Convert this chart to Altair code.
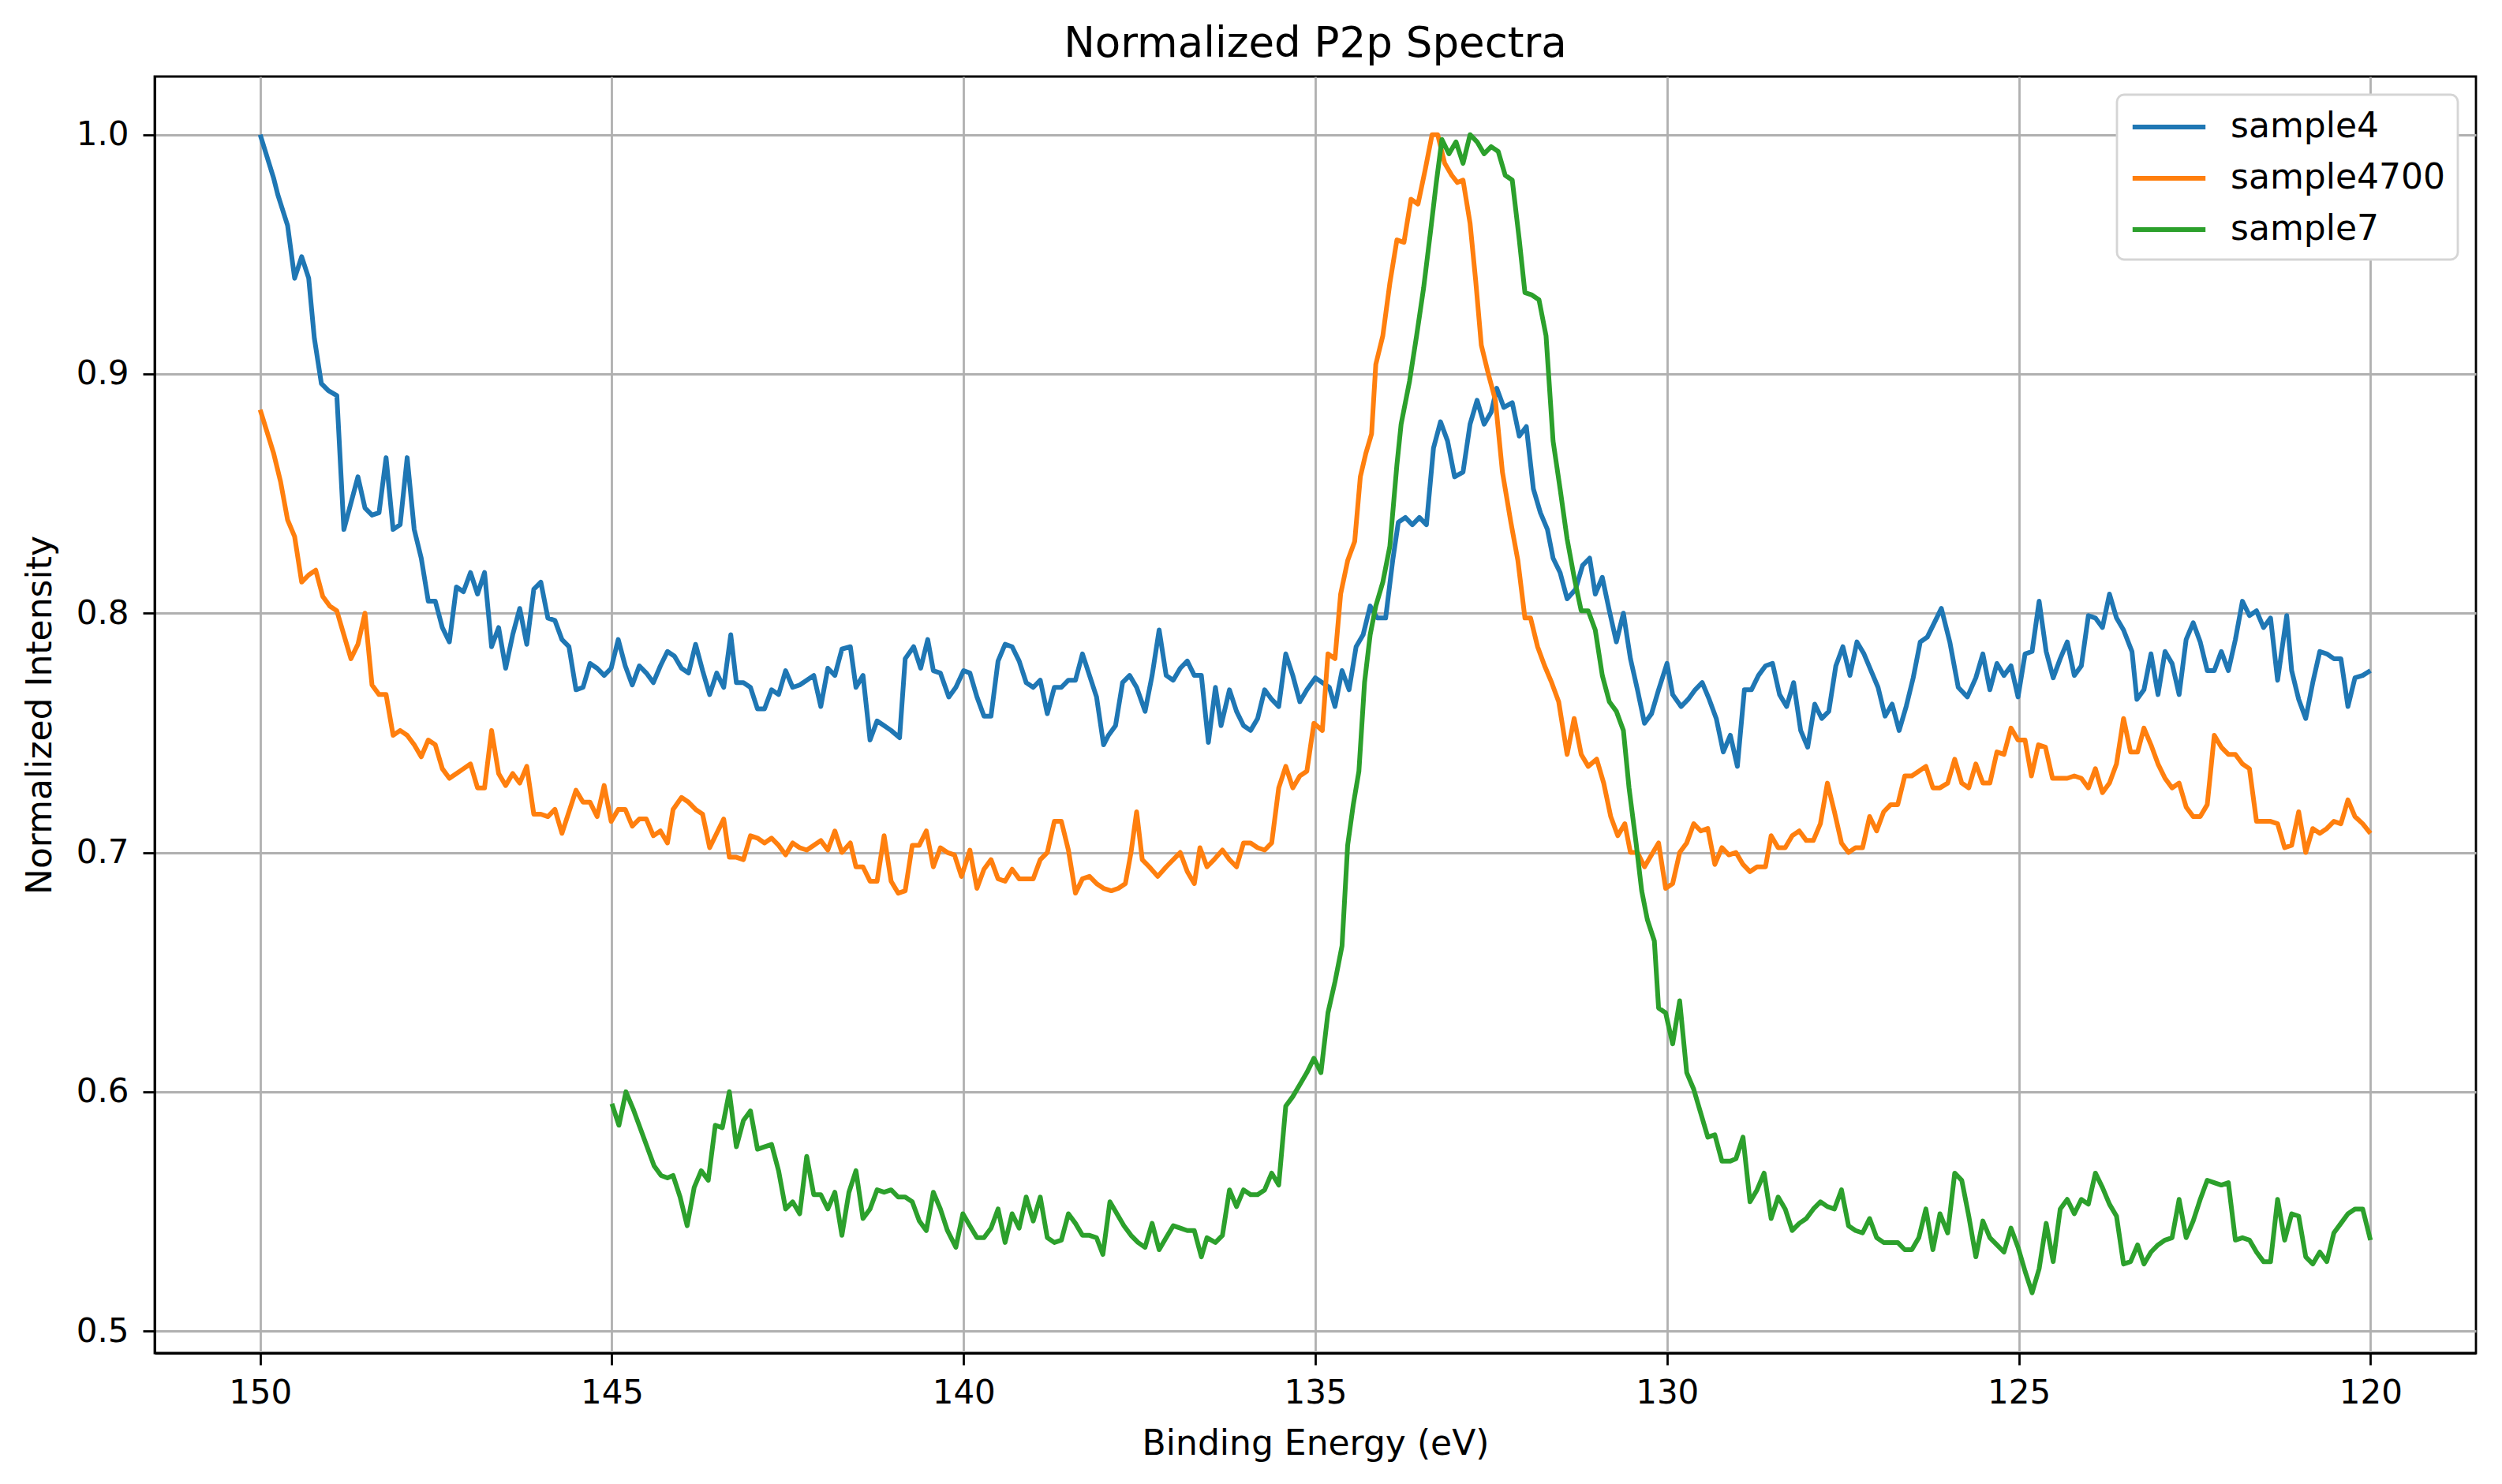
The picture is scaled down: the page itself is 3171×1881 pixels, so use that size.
import altair as alt
import pandas as pd

# Binding energy (eV) and normalized intensity
S4_EV = [150.0, 149.81, 149.75, 149.61, 149.51, 149.41, 149.31, 149.23, 149.13, 149.03,
         148.91, 148.81, 148.71, 148.61, 148.51, 148.41, 148.31, 148.21, 148.11, 148.01,
         147.91, 147.81, 147.71, 147.61, 147.51, 147.41, 147.31, 147.21, 147.11, 147.01,
         146.91, 146.81, 146.71, 146.61, 146.51, 146.41, 146.31, 146.21, 146.11, 146.01,
         145.91, 145.81, 145.71, 145.61, 145.51, 145.41, 145.31, 145.21, 145.11, 145.01,
         144.91, 144.81, 144.71, 144.61, 144.51, 144.41, 144.31, 144.21, 144.11, 144.01,
         143.91, 143.81, 143.71, 143.61, 143.51, 143.41, 143.31, 143.23, 143.13, 143.03,
         142.93, 142.83, 142.73, 142.63, 142.53, 142.43, 142.33, 142.23, 142.13, 142.03,
         141.93, 141.83, 141.73, 141.61, 141.53, 141.43, 141.33, 141.23, 141.13, 141.03,
         140.91, 140.83, 140.71, 140.61, 140.51, 140.43, 140.33, 140.21, 140.11, 140.0,
         139.91, 139.81, 139.71, 139.61, 139.51, 139.41, 139.31, 139.21, 139.11, 139.01,
         138.91, 138.81, 138.71, 138.61, 138.51, 138.41, 138.31, 138.21, 138.11, 138.01,
         137.94, 137.84, 137.74, 137.64, 137.54, 137.42, 137.32, 137.22, 137.12, 137.02,
         136.92, 136.82, 136.72, 136.62, 136.52, 136.42, 136.34, 136.22, 136.12, 136.02,
         135.92, 135.82, 135.72, 135.62, 135.52, 135.42, 135.32, 135.22, 135.12, 135.0,
         134.9, 134.8, 134.72, 134.62, 134.52, 134.42, 134.32, 134.22, 134.12, 134.0,
         133.9, 133.82, 133.72, 133.62, 133.52, 133.42, 133.32, 133.22, 133.12, 133.02,
         132.9, 132.8, 132.7, 132.6, 132.5, 132.42, 132.32, 132.2, 132.1, 132.0,
         131.9, 131.8, 131.7, 131.62, 131.52, 131.42, 131.3, 131.2, 131.1, 131.02,
         130.92, 130.82, 130.72, 130.62, 130.52, 130.42, 130.32, 130.22, 130.12, 130.0,
         129.92, 129.8, 129.7, 129.6, 129.5, 129.4, 129.3, 129.2, 129.1, 129.0,
         128.9, 128.8, 128.7, 128.6, 128.5, 128.4, 128.3, 128.2, 128.1, 128.0,
         127.9, 127.8, 127.7, 127.6, 127.5, 127.4, 127.3, 127.2, 127.1, 127.0,
         126.9, 126.8, 126.7, 126.6, 126.5, 126.4, 126.3, 126.2, 126.1, 125.98,
         125.86, 125.73, 125.61, 125.51, 125.41, 125.31, 125.21, 125.11, 125.01, 124.91,
         124.81, 124.71, 124.61, 124.51, 124.41, 124.31, 124.21, 124.11, 124.01, 123.91,
         123.81, 123.71, 123.61, 123.51, 123.39, 123.32, 123.22, 123.12, 123.02, 122.92,
         122.82, 122.72, 122.62, 122.52, 122.42, 122.32, 122.22, 122.12, 122.02, 121.92,
         121.82, 121.72, 121.62, 121.52, 121.42, 121.32, 121.19, 121.12, 121.02, 120.92,
         120.82, 120.72, 120.62, 120.52, 120.42, 120.32, 120.22, 120.11, 120.0]
S4_Y = [1.0, 0.982, 0.975, 0.962, 0.94, 0.949, 0.94, 0.915, 0.896, 0.893,
        0.891, 0.835, 0.846, 0.857, 0.844, 0.841, 0.842, 0.865, 0.835, 0.837,
        0.865, 0.835, 0.823, 0.805, 0.805, 0.794, 0.788, 0.811, 0.809, 0.817,
        0.808, 0.817, 0.786, 0.794, 0.777, 0.791, 0.802, 0.787, 0.81, 0.813,
        0.798, 0.797, 0.789, 0.786, 0.768, 0.769, 0.779, 0.777, 0.774, 0.777,
        0.789, 0.778, 0.77, 0.778, 0.775, 0.771, 0.778, 0.784, 0.782, 0.777,
        0.775, 0.787, 0.776, 0.766, 0.775, 0.769, 0.791, 0.771, 0.771, 0.769,
        0.76, 0.76, 0.768, 0.766, 0.776, 0.769, 0.77, 0.772, 0.774, 0.761,
        0.777, 0.774, 0.785, 0.786, 0.769, 0.774, 0.747, 0.755, 0.753, 0.751,
        0.748, 0.781, 0.786, 0.777, 0.789, 0.776, 0.775, 0.765, 0.769, 0.776,
        0.775, 0.765, 0.757, 0.757, 0.78, 0.787, 0.786, 0.78, 0.771, 0.769,
        0.772, 0.758, 0.769, 0.769, 0.772, 0.772, 0.783, 0.774, 0.765, 0.745,
        0.749, 0.753, 0.771, 0.774, 0.769, 0.759, 0.774, 0.793, 0.774, 0.772,
        0.777, 0.78, 0.774, 0.774, 0.746, 0.769, 0.753, 0.768, 0.759, 0.753,
        0.751, 0.756, 0.768, 0.764, 0.761, 0.783, 0.774, 0.763, 0.768, 0.773,
        0.771, 0.769, 0.761, 0.776, 0.768, 0.786, 0.791, 0.803, 0.798, 0.798,
        0.822, 0.838, 0.84, 0.837, 0.84, 0.837, 0.869, 0.88, 0.872, 0.857,
        0.859, 0.879, 0.889, 0.879, 0.884, 0.894, 0.886, 0.888, 0.874, 0.878,
        0.852, 0.842, 0.835, 0.823, 0.817, 0.806, 0.81, 0.82, 0.823, 0.808,
        0.815, 0.801, 0.788, 0.8, 0.781, 0.768, 0.754, 0.758, 0.768, 0.779,
        0.766, 0.761, 0.764, 0.768, 0.771, 0.764, 0.756, 0.742, 0.749, 0.736,
        0.768, 0.768, 0.774, 0.778, 0.779, 0.766, 0.761, 0.771, 0.751, 0.744,
        0.762, 0.756, 0.759, 0.778, 0.786, 0.774, 0.788, 0.783, 0.776, 0.769,
        0.757, 0.762, 0.751, 0.761, 0.773, 0.788, 0.79, 0.796, 0.802, 0.788,
        0.769, 0.765, 0.773, 0.783, 0.768, 0.779, 0.774, 0.778, 0.765, 0.783,
        0.784, 0.805, 0.784, 0.773, 0.781, 0.788, 0.774, 0.778, 0.799, 0.798,
        0.794, 0.808, 0.798, 0.793, 0.784, 0.764, 0.768, 0.783, 0.766, 0.784,
        0.779, 0.766, 0.789, 0.796, 0.788, 0.776, 0.776, 0.784, 0.776, 0.789,
        0.805, 0.799, 0.801, 0.794, 0.798, 0.772, 0.799, 0.776, 0.764, 0.756,
        0.771, 0.784, 0.783, 0.781, 0.781, 0.761, 0.773, 0.774, 0.776]

S4700_EV = [150.0, 149.81, 149.71, 149.61, 149.51, 149.41, 149.31, 149.21, 149.11, 149.01,
            148.91, 148.81, 148.71, 148.61, 148.51, 148.41, 148.31, 148.21, 148.11, 148.01,
            147.91, 147.81, 147.71, 147.61, 147.51, 147.41, 147.31, 147.21, 147.11, 147.01,
            146.91, 146.81, 146.71, 146.61, 146.51, 146.41, 146.31, 146.21, 146.11, 146.01,
            145.91, 145.81, 145.71, 145.61, 145.51, 145.41, 145.31, 145.21, 145.11, 145.01,
            144.91, 144.81, 144.71, 144.61, 144.51, 144.41, 144.31, 144.21, 144.13, 144.01,
            143.91, 143.81, 143.71, 143.61, 143.51, 143.41, 143.33, 143.23, 143.13, 143.03,
            142.93, 142.83, 142.73, 142.63, 142.53, 142.43, 142.33, 142.23, 142.13, 142.03,
            141.93, 141.83, 141.73, 141.61, 141.53, 141.43, 141.33, 141.23, 141.13, 141.03,
            140.93, 140.83, 140.73, 140.63, 140.53, 140.43, 140.33, 140.23, 140.13, 140.03,
            139.91, 139.81, 139.71, 139.61, 139.51, 139.41, 139.31, 139.21, 139.11, 139.01,
            138.91, 138.81, 138.71, 138.61, 138.51, 138.41, 138.31, 138.21, 138.11, 138.01,
            137.9, 137.8, 137.7, 137.62, 137.54, 137.46, 137.36, 137.24, 137.12, 137.02,
            136.92, 136.82, 136.72, 136.64, 136.54, 136.44, 136.32, 136.22, 136.12, 136.02,
            135.92, 135.82, 135.72, 135.62, 135.52, 135.42, 135.32, 135.22, 135.12, 135.02,
            134.9, 134.82, 134.72, 134.64, 134.54, 134.44, 134.36, 134.28, 134.2, 134.14,
            134.04, 133.94, 133.84, 133.74, 133.64, 133.54, 133.44, 133.34, 133.26, 133.16,
            133.06, 132.98, 132.9, 132.8, 132.72, 132.64, 132.54, 132.44, 132.34, 132.22,
            132.12, 132.02, 131.94, 131.84, 131.74, 131.64, 131.54, 131.42, 131.32, 131.22,
            131.12, 131.0, 130.9, 130.8, 130.7, 130.6, 130.52, 130.42, 130.32, 130.22,
            130.12, 130.02, 129.92, 129.82, 129.72, 129.62, 129.52, 129.42, 129.32, 129.22,
            129.12, 129.02, 128.92, 128.82, 128.72, 128.6, 128.52, 128.42, 128.32, 128.22,
            128.12, 128.02, 127.92, 127.82, 127.72, 127.62, 127.52, 127.42, 127.32, 127.22,
            127.12, 127.02, 126.92, 126.82, 126.72, 126.62, 126.52, 126.42, 126.32, 126.22,
            126.12, 126.01, 125.91, 125.81, 125.71, 125.61, 125.51, 125.41, 125.31, 125.21,
            125.11, 125.01, 124.91, 124.82, 124.72, 124.62, 124.52, 124.41, 124.31, 124.21,
            124.11, 124.01, 123.91, 123.81, 123.71, 123.61, 123.51, 123.41, 123.31, 123.22,
            123.12, 123.02, 122.92, 122.82, 122.72, 122.62, 122.52, 122.42, 122.32, 122.22,
            122.12, 122.02, 121.92, 121.82, 121.72, 121.62, 121.52, 121.42, 121.32, 121.22,
            121.12, 121.02, 120.92, 120.82, 120.72, 120.62, 120.52, 120.42, 120.32, 120.22,
            120.11, 120.0]
S4700_Y = [0.885, 0.867, 0.855, 0.839, 0.832, 0.813, 0.816, 0.818, 0.807, 0.803,
           0.801, 0.791, 0.781, 0.787, 0.8, 0.77, 0.766, 0.766, 0.749, 0.751,
           0.749, 0.745, 0.74, 0.747, 0.745, 0.735, 0.731, 0.733, 0.735, 0.737,
           0.727, 0.727, 0.751, 0.733, 0.728, 0.733, 0.729, 0.736, 0.716, 0.716,
           0.715, 0.718, 0.708, 0.717, 0.726, 0.721, 0.721, 0.715, 0.728, 0.713,
           0.718, 0.718, 0.711, 0.714, 0.714, 0.707, 0.709, 0.704, 0.718, 0.723,
           0.721, 0.718, 0.716, 0.702, 0.708, 0.714, 0.698, 0.698, 0.697, 0.707,
           0.706, 0.704, 0.706, 0.703, 0.699, 0.704, 0.702, 0.701, 0.703, 0.705,
           0.701, 0.709, 0.7, 0.704, 0.694, 0.694, 0.688, 0.688, 0.707, 0.688,
           0.683, 0.684, 0.703, 0.703, 0.709, 0.694, 0.702, 0.7, 0.699, 0.69,
           0.701, 0.685, 0.693, 0.697, 0.689, 0.688, 0.693, 0.689, 0.689, 0.689,
           0.697, 0.7, 0.713, 0.713, 0.701, 0.683, 0.689, 0.69, 0.687, 0.685,
           0.684, 0.685, 0.687, 0.7, 0.717, 0.697, 0.694, 0.69, 0.694, 0.697,
           0.7, 0.692, 0.687, 0.702, 0.694, 0.697, 0.701, 0.697, 0.694, 0.704,
           0.704, 0.702, 0.701, 0.704, 0.727, 0.736, 0.727, 0.732, 0.734, 0.754,
           0.751, 0.783, 0.781, 0.808, 0.822, 0.83, 0.857, 0.867, 0.875, 0.904,
           0.916, 0.938, 0.956, 0.955, 0.973, 0.971, 0.985, 1.0, 1.0, 0.988,
           0.983, 0.98, 0.981, 0.963, 0.939, 0.912, 0.9, 0.889, 0.859, 0.838,
           0.822, 0.798, 0.798, 0.786, 0.778, 0.771, 0.763, 0.741, 0.756, 0.741,
           0.736, 0.739, 0.729, 0.715, 0.707, 0.712, 0.7, 0.7, 0.694, 0.699,
           0.704, 0.685, 0.687, 0.7, 0.704, 0.712, 0.709, 0.71, 0.695, 0.702,
           0.699, 0.7, 0.695, 0.692, 0.694, 0.694, 0.707, 0.702, 0.702, 0.707,
           0.709, 0.705, 0.705, 0.712, 0.729, 0.717, 0.704, 0.7, 0.702, 0.702,
           0.715, 0.709, 0.717, 0.72, 0.72, 0.732, 0.732, 0.734, 0.736, 0.727,
           0.727, 0.729, 0.739, 0.729, 0.727, 0.737, 0.729, 0.729, 0.742, 0.741,
           0.752, 0.747, 0.747, 0.732, 0.745, 0.744, 0.731, 0.731, 0.731, 0.732,
           0.731, 0.727, 0.735, 0.725, 0.729, 0.737, 0.756, 0.742, 0.742, 0.752,
           0.745, 0.737, 0.731, 0.727, 0.729, 0.719, 0.715, 0.715, 0.72, 0.749,
           0.744, 0.741, 0.741, 0.737, 0.735, 0.713, 0.713, 0.713, 0.712, 0.702,
           0.703, 0.717, 0.7, 0.71, 0.708, 0.71, 0.713, 0.712, 0.722, 0.715,
           0.712, 0.708]

S7_EV = [145.0, 144.9, 144.8, 144.7, 144.6, 144.5, 144.4, 144.3, 144.21, 144.13,
         144.03, 143.93, 143.83, 143.73, 143.63, 143.53, 143.43, 143.33, 143.23, 143.13,
         143.03, 142.93, 142.83, 142.73, 142.63, 142.53, 142.43, 142.33, 142.23, 142.13,
         142.03, 141.93, 141.83, 141.73, 141.63, 141.53, 141.43, 141.33, 141.23, 141.13,
         141.03, 140.93, 140.83, 140.73, 140.63, 140.53, 140.43, 140.33, 140.23, 140.11,
         140.01, 139.91, 139.81, 139.71, 139.61, 139.51, 139.41, 139.31, 139.21, 139.11,
         139.01, 138.91, 138.81, 138.71, 138.61, 138.51, 138.41, 138.31, 138.21, 138.11,
         138.02, 137.92, 137.82, 137.72, 137.62, 137.52, 137.42, 137.32, 137.22, 137.12,
         137.02, 136.92, 136.82, 136.72, 136.62, 136.54, 136.42, 136.32, 136.22, 136.12,
         136.02, 135.92, 135.82, 135.72, 135.62, 135.52, 135.42, 135.32, 135.22, 135.12,
         135.02, 134.92, 134.82, 134.72, 134.62, 134.54, 134.46, 134.38, 134.3, 134.22,
         134.14, 134.04, 133.94, 133.84, 133.78, 133.66, 133.56, 133.46, 133.36, 133.28,
         133.2, 133.1, 133.0, 132.9, 132.8, 132.7, 132.6, 132.5, 132.4, 132.3,
         132.2, 132.1, 132.02, 131.92, 131.82, 131.72, 131.62, 131.52, 131.42, 131.32,
         131.22, 131.12, 131.02, 130.92, 130.82, 130.72, 130.62, 130.54, 130.44, 130.36,
         130.28, 130.18, 130.12, 130.02, 129.92, 129.82, 129.72, 129.62, 129.52, 129.42,
         129.32, 129.22, 129.1, 129.02, 128.92, 128.82, 128.72, 128.62, 128.52, 128.42,
         128.32, 128.22, 128.12, 128.02, 127.92, 127.82, 127.72, 127.62, 127.52, 127.42,
         127.32, 127.22, 127.12, 127.02, 126.92, 126.82, 126.72, 126.62, 126.52, 126.42,
         126.32, 126.22, 126.12, 126.01, 125.91, 125.81, 125.71, 125.61, 125.51, 125.41,
         125.31, 125.21, 125.11, 125.01, 124.91, 124.81, 124.71, 124.61, 124.51, 124.41,
         124.31, 124.21, 124.11, 124.01, 123.91, 123.81, 123.71, 123.61, 123.51, 123.41,
         123.31, 123.22, 123.12, 123.02, 122.92, 122.82, 122.72, 122.62, 122.52, 122.42,
         122.32, 122.22, 122.12, 122.02, 121.92, 121.82, 121.72, 121.62, 121.52, 121.42,
         121.32, 121.22, 121.12, 121.02, 120.92, 120.82, 120.72, 120.62, 120.52, 120.42,
         120.32, 120.22, 120.11, 120.0]
S7_Y = [0.595, 0.586, 0.6, 0.593, 0.585, 0.577, 0.569, 0.565, 0.564, 0.565,
        0.556, 0.544, 0.56, 0.567, 0.563, 0.586, 0.585, 0.6, 0.577, 0.588,
        0.592, 0.576, 0.577, 0.578, 0.567, 0.551, 0.554, 0.549, 0.573, 0.557,
        0.557, 0.551, 0.558, 0.54, 0.558, 0.567, 0.547, 0.551, 0.559, 0.558,
        0.559, 0.556, 0.556, 0.554, 0.546, 0.542, 0.558, 0.551, 0.542, 0.535,
        0.549, 0.544, 0.539, 0.539, 0.543, 0.551, 0.537, 0.549, 0.543, 0.556,
        0.546, 0.556, 0.539, 0.537, 0.538, 0.549, 0.545, 0.54, 0.54, 0.539,
        0.532, 0.554, 0.549, 0.544, 0.54, 0.537, 0.535, 0.545, 0.534, 0.539,
        0.544, 0.543, 0.542, 0.542, 0.531, 0.539, 0.537, 0.54, 0.559, 0.552,
        0.559, 0.557, 0.557, 0.559, 0.566, 0.561, 0.594, 0.598, 0.603, 0.608,
        0.614, 0.608, 0.633, 0.646, 0.661, 0.703, 0.72, 0.734, 0.771, 0.791,
        0.803, 0.813, 0.828, 0.862, 0.879, 0.897, 0.916, 0.936, 0.96, 0.98,
        0.998, 0.992, 0.997, 0.988, 1.0, 0.997, 0.992, 0.995, 0.993, 0.983,
        0.981, 0.956, 0.934, 0.933, 0.931, 0.916, 0.872, 0.852, 0.831, 0.815,
        0.801, 0.801, 0.793, 0.774, 0.763, 0.759, 0.751, 0.727, 0.704, 0.684,
        0.672, 0.663, 0.635, 0.633, 0.62, 0.638, 0.608, 0.601, 0.591, 0.581,
        0.582, 0.571, 0.571, 0.572, 0.581, 0.554, 0.559, 0.566, 0.547, 0.556,
        0.551, 0.542, 0.545, 0.547, 0.551, 0.554, 0.552, 0.551, 0.559, 0.544,
        0.542, 0.541, 0.547, 0.539, 0.537, 0.537, 0.537, 0.534, 0.534, 0.539,
        0.551, 0.534, 0.549, 0.541, 0.566, 0.563, 0.548, 0.531, 0.546, 0.539,
        0.536, 0.533, 0.543, 0.535, 0.525, 0.516, 0.526, 0.545, 0.529, 0.551,
        0.555, 0.549, 0.555, 0.553, 0.566, 0.56, 0.553, 0.548, 0.528, 0.529,
        0.536, 0.528, 0.533, 0.536, 0.538, 0.539, 0.555, 0.539, 0.546, 0.555,
        0.563, 0.562, 0.561, 0.562, 0.538, 0.539, 0.538, 0.533, 0.529, 0.529,
        0.555, 0.538, 0.549, 0.548, 0.531, 0.528, 0.533, 0.529, 0.541, 0.545,
        0.549, 0.551, 0.551, 0.538]

SAMPLES = ["sample4", "sample4700", "sample7"]
COLORS = ["#1f77b4", "#ff7f0e", "#2ca02c"]
X_TICKS = [150, 145, 140, 135, 130, 125, 120]
Y_TICKS = [0.5, 0.6, 0.7, 0.8, 0.9, 1.0]

FONT = "DejaVu Sans"

frames = []
for name, ev, val in zip(SAMPLES, [S4_EV, S4700_EV, S7_EV], [S4_Y, S4700_Y, S7_Y]):
    frames.append(pd.DataFrame({"energy": ev, "intensity": val, "sample": name}))
df = pd.concat(frames, ignore_index=True)

chart = alt.Chart(df).mark_line(strokeWidth=6, strokeJoin="round").encode(
    x=alt.X(
        "energy:Q",
        scale=alt.Scale(domain=[118.5, 151.5], reverse=True, nice=False, zero=False),
        axis=alt.Axis(values=X_TICKS, format="d", title="Binding Energy (eV)",
                      labelPadding=15, titlePadding=22),
    ),
    y=alt.Y(
        "intensity:Q",
        scale=alt.Scale(domain=[0.4908, 1.0243], nice=False, zero=False),
        axis=alt.Axis(values=Y_TICKS, format=".1f", title="Normalized Intensity",
                      labelPadding=18, titlePadding=23),
    ),
    color=alt.Color(
        "sample:N",
        scale=alt.Scale(domain=SAMPLES, range=COLORS),
        legend=alt.Legend(
            title=None, orient="none", legendX=2487, legendY=23,
            symbolType="M-2.1,0H2.1", symbolSize=1936, symbolStrokeWidth=6,
            symbolOffset=25,
            labelFont=FONT, labelFontSize=44, labelColor="black", labelOffset=53,
            labelLimit=800,
            padding=16, rowPadding=18,
            strokeColor="#d5d5d5", fillColor="white", cornerRadius=9,
        ),
    ),
).properties(
    width=2942,
    height=1618,
    autosize=alt.AutoSizeParams(type="none"),
    padding={"left": 188, "top": 89, "right": 25, "bottom": 150},
    title=alt.Title("Normalized P2p Spectra", font=FONT, fontSize=53, fontWeight="normal",
                    color="black", anchor="middle", offset=14),
).configure_axis(
    labelFont=FONT,
    titleFont=FONT,
    labelFontSize=42,
    titleFontSize=44,
    titleFontWeight="normal",
    labelColor="black",
    titleColor="black",
    tickColor="black",
    tickSize=15,
    tickWidth=2.8,
    domainColor="black",
    domainWidth=2.8,
    gridColor="#b0b0b0",
    gridWidth=2.8,
).configure_legend(
    strokeWidth=2.8,
).configure_view(
    stroke="black",
    strokeWidth=2.8,
)

chart.save("out.html", embed_options={"renderer": "svg", "actions": False})
